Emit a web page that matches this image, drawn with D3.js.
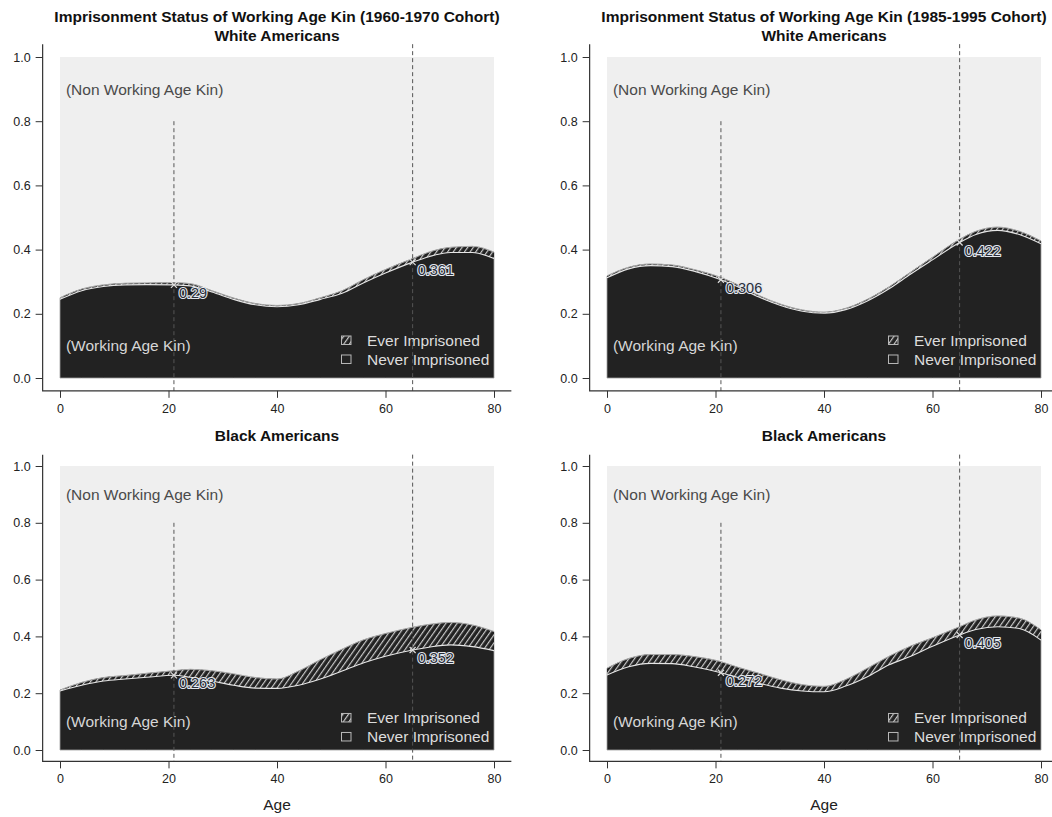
<!DOCTYPE html>
<html>
<head>
<meta charset="utf-8">
<script src="https://cdn.jsdelivr.net/npm/d3@7"></script>
<style>
  body { margin: 0; background: #ffffff; }
  svg { display: block; font-family: "Liberation Sans", Arial, Helvetica, sans-serif; }
</style>
</head>
<body>
<svg id="chart" width="1052" height="817"></svg>
<script>
// Ages at which the kin shares are sampled
const ages = [0, 4, 8, 12, 16, 21, 24, 28, 32, 36, 40, 44, 48, 52, 56, 60, 65, 68, 72, 76, 80];

// White Americans, 1960-1970 cohort
const whiteEarlyTotal = [0.250, 0.277, 0.290, 0.295, 0.296, 0.297, 0.294, 0.272, 0.249, 0.232, 0.226, 0.232, 0.250, 0.272, 0.307, 0.338, 0.372, 0.392, 0.407, 0.410, 0.392];
const whiteEarlyNever = [0.245, 0.272, 0.285, 0.290, 0.291, 0.290, 0.287, 0.268, 0.245, 0.228, 0.222, 0.228, 0.245, 0.264, 0.297, 0.327, 0.361, 0.378, 0.391, 0.391, 0.372];
const whiteEarlyMarks = [0.29, 0.361];

// White Americans, 1985-1995 cohort
const whiteLateTotal = [0.318, 0.345, 0.355, 0.352, 0.338, 0.313, 0.291, 0.257, 0.230, 0.212, 0.205, 0.217, 0.245, 0.284, 0.330, 0.376, 0.432, 0.457, 0.470, 0.457, 0.427];
const whiteLateNever = [0.312, 0.340, 0.350, 0.347, 0.333, 0.306, 0.285, 0.252, 0.226, 0.208, 0.202, 0.213, 0.240, 0.278, 0.324, 0.368, 0.422, 0.447, 0.460, 0.447, 0.418];
const whiteLateMarks = [0.306, 0.422];

// Black Americans, 1960-1970 cohort
const blackEarlyTotal = [0.211, 0.238, 0.255, 0.262, 0.270, 0.279, 0.284, 0.279, 0.268, 0.255, 0.250, 0.278, 0.318, 0.355, 0.388, 0.410, 0.432, 0.442, 0.449, 0.440, 0.417];
const blackEarlyNever = [0.208, 0.228, 0.243, 0.250, 0.256, 0.263, 0.256, 0.243, 0.228, 0.218, 0.217, 0.228, 0.250, 0.278, 0.307, 0.330, 0.352, 0.362, 0.370, 0.364, 0.350];
const blackEarlyMarks = [0.263, 0.352];

// Black Americans, 1985-1995 cohort
const blackLateTotal = [0.288, 0.322, 0.336, 0.336, 0.329, 0.311, 0.292, 0.270, 0.247, 0.230, 0.224, 0.248, 0.288, 0.330, 0.366, 0.395, 0.434, 0.458, 0.472, 0.464, 0.423];
const blackLateNever = [0.264, 0.293, 0.305, 0.304, 0.293, 0.272, 0.256, 0.235, 0.218, 0.208, 0.205, 0.225, 0.258, 0.300, 0.330, 0.365, 0.405, 0.424, 0.434, 0.428, 0.387];
const blackLateMarks = [0.272, 0.405];

const markAges = [21, 65];
const xTicks = [0, 20, 40, 60, 80];
const yTicks = [0, 0.2, 0.4, 0.6, 0.8, 1.0];
const legendLabels = ["Ever Imprisoned", "Never Imprisoned"];
const regionLabels = ["(Non Working Age Kin)", "(Working Age Kin)"];
const titleTexts = [
  ["Imprisonment Status of Working Age Kin (1960-1970 Cohort)", "White Americans"],
  ["Imprisonment Status of Working Age Kin (1985-1995 Cohort)", "White Americans"],
  ["Black Americans"],
  ["Black Americans"]
];
const xTitle = "Age";

const svg = d3.select("#chart");
const defs = svg.append("defs");

// Diagonal hatching for the "ever imprisoned" band
const hatch = defs.append("pattern")
  .attr("id", "hatch")
  .attr("patternUnits", "userSpaceOnUse")
  .attr("width", 4.6)
  .attr("height", 10)
  .attr("patternTransform", "rotate(35)");
hatch.append("rect").attr("width", 4.6).attr("height", 10).attr("fill", "#222222");
hatch.append("line")
  .attr("x1", 0.6).attr("y1", 0).attr("x2", 0.6).attr("y2", 10)
  .attr("stroke", "#d4d4d4").attr("stroke-width", 1.1);

const panels = [
  { total: whiteEarlyTotal, never: whiteEarlyNever, marks: whiteEarlyMarks, title: titleTexts[0],
    xr: [60, 494], yr: [378, 57], titleY: [22, 41], axisTitle: false },
  { total: whiteLateTotal, never: whiteLateNever, marks: whiteLateMarks, title: titleTexts[1],
    xr: [607, 1041], yr: [378, 57], titleY: [22, 41], axisTitle: false },
  { total: blackEarlyTotal, never: blackEarlyNever, marks: blackEarlyMarks, title: titleTexts[2],
    xr: [60, 494], yr: [750, 466], titleY: [441], axisTitle: true },
  { total: blackLateTotal, never: blackLateNever, marks: blackLateMarks, title: titleTexts[3],
    xr: [607, 1041], yr: [750, 466], titleY: [441], axisTitle: true }
];

panels.forEach(p => drawPanel(p));

function drawPanel(p) {
  const x = d3.scaleLinear().domain([0, 80]).range(p.xr);
  const y = d3.scaleLinear().domain([0, 1]).range(p.yr);
  // plotting region padded by 4% on each side
  const left = x(-3.2), right = x(83.2), top = y(1.04), bottom = y(-0.04);
  const g = svg.append("g");

  // background for the non-working-age share
  g.append("rect")
    .attr("x", x(0)).attr("y", y(1))
    .attr("width", x(80) - x(0)).attr("height", y(0) - y(1))
    .attr("fill", "#efefef");

  const rows = ages.map((a, i) => ({ age: a, total: p.total[i], never: p.never[i] }));
  const curve = d3.curveMonotoneX;

  // working-age kin (dark area up to the total share)
  g.append("path")
    .datum(rows)
    .attr("d", d3.area().curve(curve).x(d => x(d.age)).y0(y(0)).y1(d => y(d.total)))
    .attr("fill", "#222222")
    .attr("stroke", "#a0a0a0")
    .attr("stroke-width", 0.8);

  // ever imprisoned band
  g.append("path")
    .datum(rows)
    .attr("d", d3.area().curve(curve).x(d => x(d.age)).y0(d => y(d.never)).y1(d => y(d.total)))
    .attr("fill", "url(#hatch)");

  // top edge of the band
  g.append("path")
    .datum(rows)
    .attr("d", d3.line().curve(curve).x(d => x(d.age)).y(d => y(d.total)))
    .attr("fill", "none").attr("stroke", "#b0b0b0").attr("stroke-width", 0.9);

  // never imprisoned boundary
  g.append("path")
    .datum(rows)
    .attr("d", d3.line().curve(curve).x(d => x(d.age)).y(d => y(d.never)))
    .attr("fill", "none").attr("stroke", "#e6e6e6").attr("stroke-width", 1.1);

  // working-age boundaries
  g.append("line")
    .attr("x1", x(markAges[0])).attr("x2", x(markAges[0]))
    .attr("y1", y(0.8)).attr("y2", bottom)
    .attr("stroke", "#555").attr("stroke-width", 1).attr("stroke-dasharray", "4,3");
  g.append("line")
    .attr("x1", x(markAges[1])).attr("x2", x(markAges[1]))
    .attr("y1", top).attr("y2", bottom)
    .attr("stroke", "#555").attr("stroke-width", 1).attr("stroke-dasharray", "4,3");

  // markers and value labels (dark text with a light halo)
  markAges.forEach((a, i) => {
    const cx = x(a), cy = y(p.marks[i]);
    g.append("path")
      .attr("d", `M${cx - 3},${cy - 3}L${cx + 3},${cy + 3}M${cx - 3},${cy + 3}L${cx + 3},${cy - 3}`)
      .attr("stroke", "#dddddd").attr("stroke-width", 1.2);
    g.append("text")
      .attr("x", cx + 5).attr("y", cy + 13)
      .attr("font-size", 14.5)
      .attr("fill", "#2a2f3a")
      .attr("stroke", "#e4e8ee").attr("stroke-width", 2.2)
      .attr("paint-order", "stroke")
      .attr("stroke-linejoin", "round")
      .text(String(p.marks[i]));
  });

  // region labels
  g.append("text")
    .attr("x", x(1.1)).attr("y", y(0.9))
    .attr("dominant-baseline", "central")
    .attr("font-size", 15.5).attr("fill", "#4a4a4a")
    .text(regionLabels[0]);
  g.append("text")
    .attr("x", x(1.1)).attr("y", y(0.1))
    .attr("dominant-baseline", "central")
    .attr("font-size", 15.5).attr("fill", "#d6d6d6")
    .text(regionLabels[1]);

  // legend
  const legendTop = y(0.148) + 10;
  legendLabels.forEach((lab, i) => {
    const ly = legendTop + i * 19;
    g.append("rect")
      .attr("x", x(0) + 281.5).attr("y", ly - 4.5)
      .attr("width", 9.5).attr("height", 8.5)
      .attr("fill", i === 0 ? "url(#hatch)" : "#222222")
      .attr("stroke", "#b8b8b8").attr("stroke-width", 1);
    g.append("text")
      .attr("x", x(0) + 307).attr("y", ly)
      .attr("dominant-baseline", "central")
      .attr("font-size", 15.5).attr("fill", "#dcdcdc")
      .text(lab);
  });

  // L-shaped frame
  g.append("path")
    .attr("d", `M${left},${top}V${bottom}H${right}`)
    .attr("fill", "none").attr("stroke", "#333").attr("stroke-width", 1.2);

  // y axis
  const ya = g.append("g").attr("transform", `translate(${left},0)`)
    .call(d3.axisLeft(y).tickValues(yTicks).tickFormat(d3.format(".1f")).tickSize(7).tickPadding(5));
  ya.select(".domain").remove();
  ya.selectAll(".tick line").attr("stroke", "#333");
  ya.selectAll(".tick text").attr("font-size", 12.5).attr("fill", "#222")
    .attr("font-family", "Liberation Sans, Arial, sans-serif");

  // x axis
  const xa = g.append("g").attr("transform", `translate(0,${bottom})`)
    .call(d3.axisBottom(x).tickValues(xTicks).tickSize(7).tickPadding(6));
  xa.select(".domain").remove();
  xa.selectAll(".tick line").attr("stroke", "#333");
  xa.selectAll(".tick text").attr("font-size", 12.5).attr("fill", "#222")
    .attr("font-family", "Liberation Sans, Arial, sans-serif");

  // titles
  const cxTitle = (left + right) / 2;
  p.title.forEach((t, i) => {
    g.append("text")
      .attr("x", cxTitle).attr("y", p.titleY[i])
      .attr("text-anchor", "middle")
      .attr("font-size", 15.5).attr("font-weight", "bold").attr("fill", "#111")
      .text(t);
  });

  if (p.axisTitle) {
    g.append("text")
      .attr("x", (left + right) / 2).attr("y", bottom + 49)
      .attr("text-anchor", "middle")
      .attr("font-size", 15.5).attr("fill", "#222")
      .text(xTitle);
  }
}
</script>
</body>
</html>
